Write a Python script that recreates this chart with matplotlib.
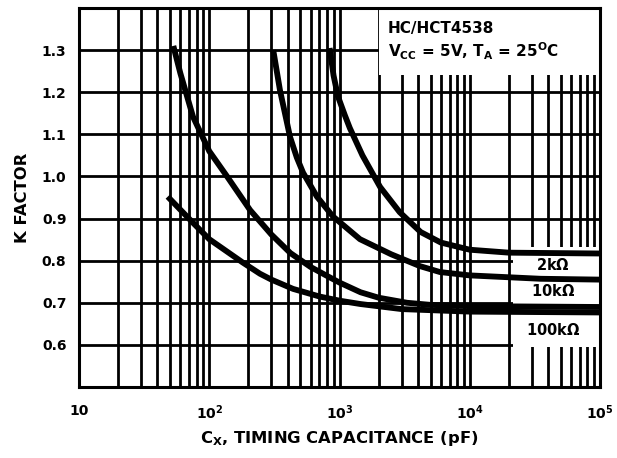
import matplotlib
matplotlib.use('Agg')
import matplotlib.pyplot as plt
from matplotlib.patches import Rectangle
from matplotlib.ticker import FixedLocator, NullFormatter

plt.rcParams['font.family'] = ['DejaVu Sans']
plt.rcParams['font.weight'] = 'bold'
plt.rcParams['mathtext.fontset'] = 'dejavusans'
plt.rcParams['mathtext.default'] = 'bf'

# curves (pF, K factor)
cap_a = [53, 60, 75, 100, 137, 206, 300, 420, 600, 800, 1000, 1450, 2000, 3300, 5000, 10000, 100000]
k_a = [1.31, 1.245, 1.142, 1.06, 1.0, 0.92, 0.862, 0.818, 0.785, 0.764, 0.748, 0.725, 0.712,
       0.70, 0.695, 0.692, 0.69]

cap_b = [48, 75, 100, 180, 245, 300, 440, 700, 1000, 1450, 3000, 10000, 100000]
k_b = [0.952, 0.89, 0.851, 0.796, 0.769, 0.755, 0.733, 0.715, 0.705, 0.697, 0.685, 0.679, 0.677]

cap_10k = [310, 349, 417, 470, 525, 671, 891, 1436, 2500, 4150, 5900, 10000, 35000, 100000]
k_10k = [1.30, 1.205, 1.094, 1.045, 1.009, 0.952, 0.905, 0.851, 0.815, 0.787, 0.773, 0.765,
         0.757, 0.755]

cap_2k = [840, 900, 973, 1100, 1200, 1500, 2050, 2900, 4200, 6000, 10000, 20000, 100000]
k_2k = [1.305, 1.24, 1.19, 1.145, 1.115, 1.05, 0.975, 0.915, 0.868, 0.843, 0.826, 0.819, 0.817]

res_labels = ['2k$\\Omega$', '10k$\\Omega$', '100k$\\Omega$']
res_label_y = [0.79, 0.727, 0.636]

xticks = [10, 100, 1000, 10000, 100000]
xtick_labels = ['10', '$10^2$', '$10^3$', '$10^4$', '$10^5$']
yticks = [0.6, 0.7, 0.8, 0.9, 1.0, 1.1, 1.2, 1.3]

fig = plt.figure(figsize=(6.17, 4.58), dpi=100)
ax = fig.add_axes([79/617, 71/458, 521/617, 379/458])
ax.set_xscale('log')
ax.set_xlim(10, 100000)
ax.set_ylim(0.5, 1.4)

ax.set_xticks(xticks)
ax.set_xticklabels(xtick_labels, fontsize=10, fontweight='bold')
minors = [m * 10**d for d in range(1, 5) for m in range(2, 10)]
ax.xaxis.set_minor_locator(FixedLocator(minors))
ax.xaxis.set_minor_formatter(NullFormatter())
ax.set_yticks(yticks)
ax.set_yticklabels(['%.1f' % v for v in yticks], fontsize=10, fontweight='bold')
ax.tick_params(which='both', length=0)
ax.tick_params(axis='x', pad=12)
ax.tick_params(axis='y', pad=9)

ax.grid(True, which='both', color='black', linewidth=2.0)
ax.set_axisbelow(True)
for s in ax.spines.values():
    s.set_linewidth(2.2)

# white boxes that hide the grid under the texts
ax.add_patch(Rectangle((2000, 1.241), 100000 - 2000, 0.2, facecolor='white',
                       edgecolor='none', zorder=1.5))
ax.add_patch(Rectangle((21500, 0.596), 100000 - 21500, 0.237, facecolor='white',
                       edgecolor='none', zorder=1.5))

for c, k in [(cap_a, k_a), (cap_b, k_b), (cap_10k, k_10k), (cap_2k, k_2k)]:
    ax.plot(c, k, color='black', linewidth=4.2, solid_capstyle='butt',
            solid_joinstyle='round', zorder=3)

for lab, yy in zip(res_labels, res_label_y):
    ax.text(43500, yy, lab, ha='center', va='center', fontsize=10.5,
            fontweight='bold', zorder=4)

ax.text(2350, 1.352, 'HC/HCT4538', fontsize=11, fontweight='bold',
        va='center', ha='left', zorder=4)
ax.text(2350, 1.297, '$V_{CC}$ = 5V, $T_A$ = 25$^O$C', fontsize=11,
        fontweight='bold', va='center', ha='left', zorder=4)

ax.set_xlabel('C$_X$, TIMING CAPACITANCE (pF)', fontsize=11.8, fontweight='bold',
              labelpad=5)
ax.set_ylabel('K FACTOR', fontsize=11.8, fontweight='bold')
ax.yaxis.set_label_coords(-0.095, 0.5)

fig.savefig('out.png', dpi=100)
